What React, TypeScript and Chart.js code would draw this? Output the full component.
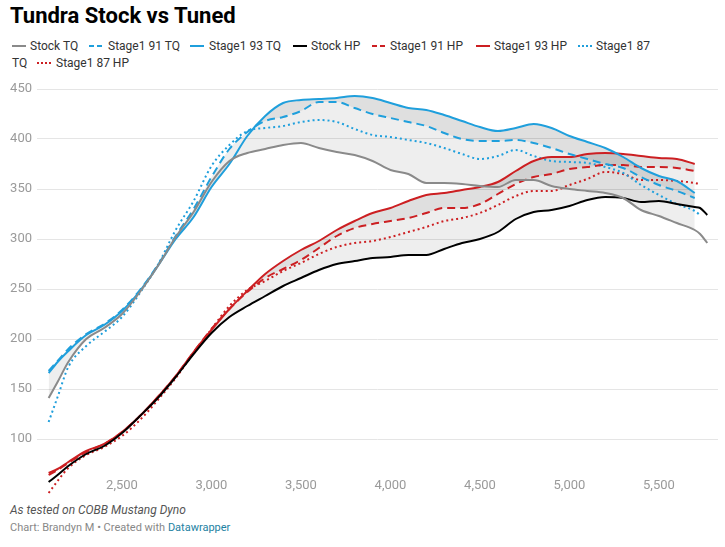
import { useEffect, useRef } from 'react';
import { Chart, registerables } from 'chart.js';

Chart.register(...registerables);

const rpm = [2090, 2140, 2200, 2300, 2400, 2500, 2600, 2700, 2800, 2900, 3000, 3100, 3200, 3300, 3400, 3500, 3600, 3700, 3800, 3900, 4000, 4100, 4200, 4300, 4400, 4500, 4600, 4700, 4800, 4900, 5000, 5100, 5200, 5300, 5400, 5500, 5600, 5700, 5730, 5770];

const stockTQ = [141, 157, 177, 200, 211, 225, 247, 273, 302, 327, 357, 378, 386, 390, 394, 396, 391, 387, 384, 378, 369, 365, 356, 356, 355, 353, 352, 359, 359, 353, 350, 348, 346, 341, 329, 323, 316, 309, 305, 296];
const stage91TQ = [168, 178, 190, 205, 215, 229, 249, 274, 303, 330, 362, 390, 407, 418, 422, 428, 437, 437, 431, 425, 421, 417, 413, 406, 400, 398, 398, 399, 396, 391, 385, 380, 375, 371, 362, 354, 348, 341, null, null];
const stage93TQ = [166, 177, 188, 204, 214, 228, 248, 273, 300, 322, 352, 375, 403, 423, 436, 439, 440, 441, 443, 441, 436, 431, 429, 424, 418, 412, 408, 411, 415, 411, 403, 397, 391, 382, 371, 363, 358, 346, null, null];
const stockHP = [57, 64, 73, 85, 93, 106, 123, 141, 162, 185, 206, 222, 233, 243, 253, 261, 269, 275, 278, 281, 282, 284, 284, 290, 296, 300, 307, 320, 327, 329, 333, 339, 342, 341, 337, 338, 335, 332, 331, 324];
const stage91HP = [64, 69, 76, 87, 95, 107, 123, 142, 163, 187, 210, 230, 247, 261, 270, 279, 291, 303, 311, 315, 318, 321, 326, 331, 331, 335, 345, 355, 362, 365, 370, 372, 374, 374, 372, 372, 371, 368, null, null];
const stage93HP = [66, 70, 77, 88, 95, 107, 123, 142, 163, 187, 209, 230, 248, 265, 278, 289, 298, 309, 318, 326, 331, 338, 344, 346, 349, 352, 357, 368, 378, 382, 382, 385, 386, 385, 383, 381, 380, 375, null, null];
const stage87TQ = [117, 142, 172, 193, 207, 222, 246, 274, 309, 338, 373, 394, 408, 411, 413, 417, 419, 417, 410, 404, 402, 399, 396, 391, 385, 380, 383, 389, 383, 378, 377, 376, 372, 366, 354, 344, 335, 328, 324, null];
const stage87HP = [46, 58, 71, 84, 92, 103, 119, 139, 161, 186, 210, 233, 249, 258, 268, 276, 285, 292, 296, 298, 302, 307, 312, 318, 321, 326, 334, 343, 348, 348, 354, 360, 367, 365, 359, 359, 358, 356, 355, null];

const xTicks = [2500, 3000, 3500, 4000, 4500, 5000, 5500];
const yTicks = [100, 150, 200, 250, 300, 350, 400, 450];

const BLUE = '#1f9fdc';
const RED = '#cc1f22';
const GRAY = '#8a8a8a';

const pts = (vals: (number | null)[]) => rpm.map((x, i) => ({ x, y: vals[i] }));

const legendRow1 = [
  { label: 'Stock TQ', color: GRAY, dash: '', sx: 12, tx: 30 },
  { label: 'Stage1 91 TQ', color: BLUE, dash: '5 3', sx: 89, tx: 108 },
  { label: 'Stage1 93 TQ', color: BLUE, dash: '', sx: 190, tx: 209 },
  { label: 'Stock HP', color: '#000', dash: '', sx: 293, tx: 311 },
  { label: 'Stage1 91 HP', color: RED, dash: '5 3', sx: 372, tx: 390 },
  { label: 'Stage1 93 HP', color: RED, dash: '', sx: 476, tx: 494 },
  { label: 'Stage1 87', color: BLUE, dash: '2 2', sx: 578, tx: 596 },
];

function Sym({ color, dash }: { color: string; dash: string }) {
  return (
    <svg width="14" height="4" style={{ display: 'block' }}>
      <line x1="0" y1="2" x2="14" y2="2" stroke={color} strokeWidth="2" strokeDasharray={dash || undefined} />
    </svg>
  );
}

export default function App() {
  const canvasRef = useRef<HTMLCanvasElement | null>(null);
  const chartRef = useRef<Chart | null>(null);

  useEffect(() => {
    const ctx = canvasRef.current?.getContext('2d');
    if (!ctx) return;
    Chart.defaults.font.family = 'Roboto';

    const line = (label: string, data: (number | null)[], color: string, dash: number[], width = 2, extra = {}) => ({
      label,
      data: pts(data),
      borderColor: color,
      borderWidth: width,
      borderDash: dash,
      pointRadius: 0,
      fill: false,
      cubicInterpolationMode: 'monotone' as const,
      clip: false as const,
      ...extra,
    });

    chartRef.current = new Chart(ctx, {
      type: 'line',
      data: {
        datasets: [
          line('Stock TQ', stockTQ, GRAY, []),
          line('Stage1 91 TQ', stage91TQ, BLUE, [8, 5], 2, { fill: 2, backgroundColor: 'rgba(0,0,0,0.065)' }),
          line('Stage1 93 TQ', stage93TQ, BLUE, [], 2, { fill: 0, backgroundColor: 'rgba(0,0,0,0.065)' }),
          line('Stock HP', stockHP, '#000', []),
          line('Stage1 91 HP', stage91HP, RED, [8, 5], 2, { fill: 5, backgroundColor: 'rgba(0,0,0,0.065)' }),
          line('Stage1 93 HP', stage93HP, RED, [], 2, { fill: 3, backgroundColor: 'rgba(0,0,0,0.065)' }),
          line('Stage1 87 TQ', stage87TQ, BLUE, [2, 3]),
          line('Stage1 87 HP', stage87HP, RED, [2, 3]),
        ],
      },
      options: {
        animation: false,
        responsive: false,
        layout: { padding: { top: 13, right: 0, bottom: 0, left: 0 } },
        plugins: {
          legend: { display: false },
          tooltip: { enabled: false },
          filler: { drawTime: 'beforeDatasetsDraw' },
        },
        scales: {
          x: {
            type: 'linear',
            min: 2025,
            max: 5830,
            grid: { display: false },
            border: { display: false },
            afterBuildTicks: (axis: any) => { axis.ticks = xTicks.map((v) => ({ value: v })); },
            afterFit: (axis: any) => { axis.height = 29; },
            ticks: {
              padding: 4,
              color: '#9a9a9a',
              font: { size: 13 },
              callback: (v: any) => Number(v).toLocaleString('en-US'),
            },
          },
          y: {
            min: 73,
            max: 450,
            grid: { color: '#e5e5e5', drawTicks: false },
            border: { display: false },
            afterBuildTicks: (axis: any) => { axis.ticks = yTicks.map((v) => ({ value: v })); },
            afterFit: (axis: any) => { axis.width = 29; },
            ticks: { padding: 5, color: '#9a9a9a', font: { size: 13 } },
          },
        },
      },
    });
    return () => chartRef.current?.destroy();
  }, []);

  return (
    <div style={{ position: 'absolute', left: 0, top: 0, width: 725, height: 547, fontFamily: 'Roboto', background: '#fff' }}>
      <div style={{ position: 'absolute', left: 10, top: 2, fontSize: 22, fontWeight: 700, lineHeight: '28px', color: '#000' }}>
        Tundra Stock vs Tuned
      </div>
      {legendRow1.map((it) => (
        <div key={it.label}>
          <div style={{ position: 'absolute', left: it.sx, top: 44 }}><Sym color={it.color} dash={it.dash} /></div>
          <div style={{ position: 'absolute', left: it.tx, top: 38, fontSize: 12, lineHeight: '16px', color: '#333', whiteSpace: 'nowrap' }}>{it.label}</div>
        </div>
      ))}
      <div style={{ position: 'absolute', left: 12, top: 55, fontSize: 12, lineHeight: '16px', color: '#333' }}>TQ</div>
      <div style={{ position: 'absolute', left: 37, top: 61 }}><Sym color={RED} dash="2 2" /></div>
      <div style={{ position: 'absolute', left: 56, top: 55, fontSize: 12, lineHeight: '16px', color: '#333', whiteSpace: 'nowrap' }}>Stage1 87 HP</div>
      <canvas ref={canvasRef} width={710} height={419} style={{ position: 'absolute', left: 8, top: 76 }} />
      <div style={{ position: 'absolute', left: 10, top: 502, fontSize: 12, fontStyle: 'italic', lineHeight: '16px', color: '#555' }}>
        As tested on COBB Mustang Dyno
      </div>
      <div style={{ position: 'absolute', left: 10, top: 521, fontSize: 11, lineHeight: '14px', color: '#888' }}>
        Chart: Brandyn M • Created with <span style={{ color: '#1d81a2' }}>Datawrapper</span>
      </div>
    </div>
  );
}
